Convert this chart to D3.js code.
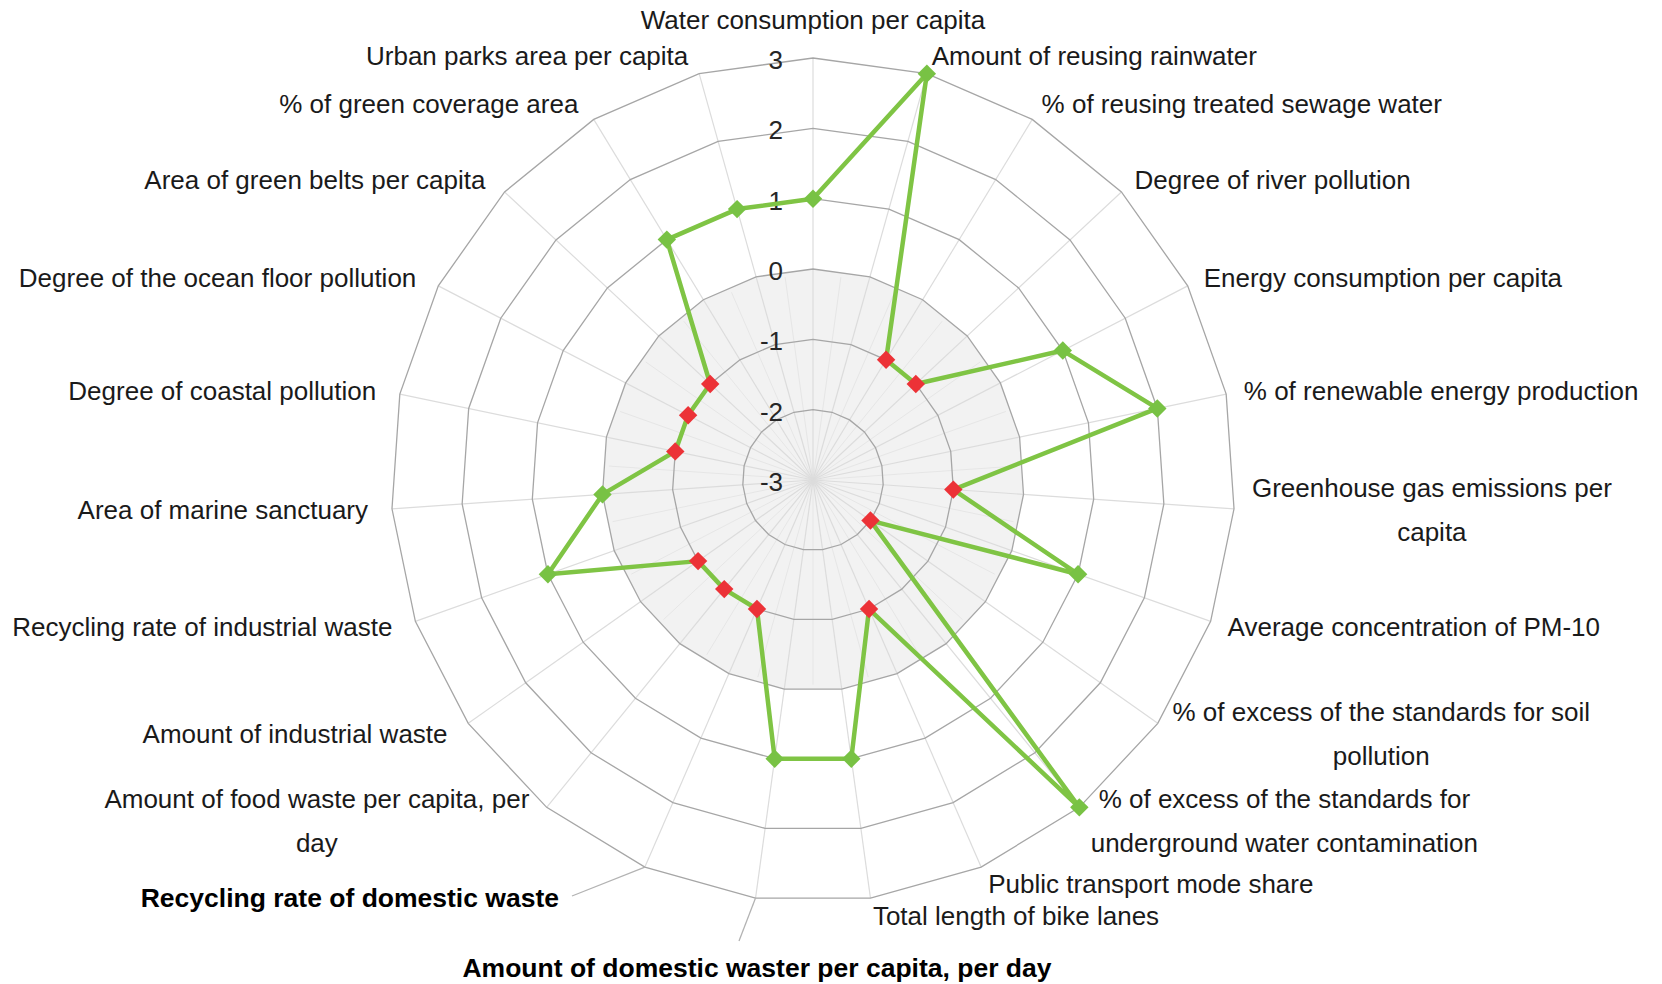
<!DOCTYPE html>
<html>
<head>
<meta charset="utf-8">
<script src="https://cdn.jsdelivr.net/npm/d3@7/dist/d3.min.js"></script>
<style>
  html, body { margin: 0; padding: 0; background: #ffffff; }
  svg { display: block; }
  text { font-family: Arial, "Liberation Sans", Helvetica, sans-serif; }
</style>
</head>
<body>
<svg id="chart" width="1662" height="984"></svg>
<script>
// ---------------- data ----------------
const categories = [
  "Water consumption per capita",
  "Amount of reusing rainwater",
  "% of reusing treated sewage water",
  "Degree of river pollution",
  "Energy consumption per capita",
  "% of renewable energy production",
  "Greenhouse gas emissions per\ncapita",
  "Average concentration of PM-10",
  "% of excess of the standards for soil\npollution",
  "% of excess of the standards for\nunderground water contamination",
  "Public transport mode share",
  "Total length of bike lanes",
  "Amount of domestic waster per capita, per day",
  "Recycling rate of domestic waste",
  "Amount of food waste per capita, per\nday",
  "Amount of industrial waste",
  "Recycling rate of industrial waste",
  "Area of marine sanctuary",
  "Degree of coastal pollution",
  "Degree of the ocean floor pollution",
  "Area of green belts per capita",
  "% of green coverage area",
  "Urban parks area per capita"
];
const values = [1, 3, -1, -1, 1, 2, -1, 1, -2, 3, -1, 1, 1, -1, -1, -1, 1, 0, -1, -1, -1, 1, 1];
const tickValues = [-3, -2, -1, 0, 1, 2, 3];
const tickLabels = ["-3", "-2", "-1", "0", "1", "2", "3"];

// ---------------- layout / style ----------------
const W = 1662, H = 984;
const cx = 813, cy = 480, R = 422;
const labelGap = 18, leftShift = 6;
const fontSize = 26;
const lineGap = 44;
const colors = {
  ring: "#a6a6a6", spoke: "#dcdcdc", innerSpoke: "#e6e6e6", fill: "#f2f2f2",
  line: "#7fc444", pos: "#78c244", neg: "#ec3237", text: "#1a1a1a", leader: "#b3b3b3"
};
// labels moved by hand in the original (bold, with leader lines)
const manualLabels = {
  12: { anchor: "middle", tx: 757, ty: 968, lx: 739, ly: 941 },
  13: { anchor: "end", tx: 559, ty: 898, lx: 572, ly: 896 }
};

const svg = d3.select("#chart");
svg.append("rect").attr("width", W).attr("height", H).attr("fill", "#fff");

const n = categories.length;
const rScale = d3.scaleLinear().domain([-3, 3]).range([0, R]);
const aScale = d3.scaleLinear().domain([0, n]).range([0, 2 * Math.PI]);
const idx = d3.range(n);
const pt = (i, rad) => [cx + rad * Math.sin(aScale(i)), cy - rad * Math.cos(aScale(i))];

const g = svg.append("g").attr("transform", `translate(${cx},${cy})`);

const ringLine = t => d3.lineRadial()
  .angle(i => aScale(i))
  .radius(() => rScale(t))
  .curve(d3.curveLinearClosed)(idx);

// gray inner area (value 0)
g.append("path").attr("d", ringLine(0)).attr("fill", colors.fill).attr("stroke", "none");

// faint half-step spokes inside the shaded area
g.selectAll("line.inner").data(idx).join("line")
  .attr("x1", 0).attr("y1", 0)
  .attr("x2", i => rScale(0) * 0.97 * Math.sin(aScale(i + 0.5)))
  .attr("y2", i => -rScale(0) * 0.97 * Math.cos(aScale(i + 0.5)))
  .attr("stroke", colors.innerSpoke).attr("stroke-width", 1);

// spokes
g.selectAll("line.spoke").data(idx).join("line")
  .attr("x1", 0).attr("y1", 0)
  .attr("x2", i => rScale(3) * Math.sin(aScale(i)))
  .attr("y2", i => -rScale(3) * Math.cos(aScale(i)))
  .attr("stroke", colors.spoke).attr("stroke-width", 1.2);

// rings
g.selectAll("path.ring").data(tickValues.filter(t => t > -3)).join("path")
  .attr("d", t => ringLine(t))
  .attr("fill", "none").attr("stroke", colors.ring).attr("stroke-width", 1.3);

// tick labels
g.selectAll("text.tick").data(tickValues).join("text")
  .attr("x", -30)
  .attr("y", t => -rScale(t) + 2)
  .attr("dy", "0.35em")
  .attr("text-anchor", "end")
  .attr("font-size", fontSize)
  .attr("fill", "#262626")
  .text((t, k) => tickLabels[k]);

// data polygon
g.append("path")
  .attr("d", d3.lineRadial()
    .angle((d, i) => aScale(i))
    .radius(d => rScale(d))
    .curve(d3.curveLinearClosed)(values))
  .attr("fill", "none").attr("stroke", colors.line)
  .attr("stroke-width", 4.5).attr("stroke-linejoin", "round");

// markers
const diamond = d3.symbol().type(d3.symbolSquare).size(170);
g.selectAll("path.marker").data(values).join("path")
  .attr("d", diamond)
  .attr("transform", (d, i) => {
    const x = rScale(d) * Math.sin(aScale(i)), y = -rScale(d) * Math.cos(aScale(i));
    return `translate(${x},${y}) rotate(45)`;
  })
  .attr("fill", d => d >= 0 ? colors.pos : colors.neg);

// category labels
const lab = svg.append("g");
categories.forEach((c, i) => {
  const lines = c.split("\n");
  const m = manualLabels[i];
  if (m) {
    const v = pt(i, rScale(3));
    lab.append("line").attr("x1", v[0]).attr("y1", v[1]).attr("x2", m.lx).attr("y2", m.ly)
      .attr("stroke", colors.leader).attr("stroke-width", 1.3);
    lab.append("text").attr("x", m.tx).attr("y", m.ty).attr("dy", "0.35em")
      .attr("text-anchor", m.anchor).attr("font-size", 26.5).attr("font-weight", "bold")
      .attr("fill", "#000").text(c);
    return;
  }
  const a = aScale(i), s = Math.sin(a), co = Math.cos(a);
  let [px, py] = pt(i, rScale(3) + labelGap);
  let anchor = Math.abs(s) < 0.05 ? "middle" : (s > 0 ? "start" : "end");
  if (anchor === "end") px -= leftShift;
  if (anchor === "middle") py = co > 0 ? py - 20 : py + 20;
  const texts = lines.map((ln, k) => lab.append("text")
    .attr("y", py + (k - (lines.length - 1) / 2) * lineGap)
    .attr("dy", "0.35em")
    .attr("font-size", fontSize)
    .attr("fill", colors.text)
    .text(ln));
  if (lines.length === 1) {
    texts[0].attr("x", px).attr("text-anchor", anchor);
  } else {
    const w = d3.max(texts, t => t.node().getComputedTextLength());
    const mid = anchor === "start" ? px + w / 2 : (anchor === "end" ? px - w / 2 : px);
    texts.forEach(t => t.attr("x", mid).attr("text-anchor", "middle"));
  }
});
</script>
</body>
</html>
